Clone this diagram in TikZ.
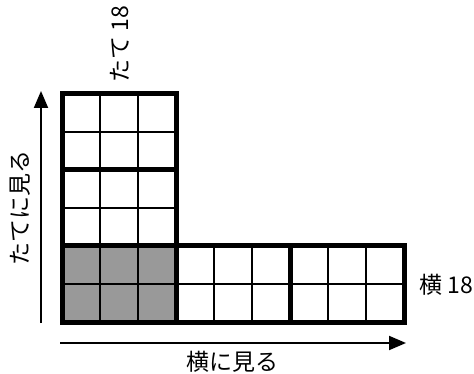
\documentclass[tikz,border=0pt]{standalone}
\usepackage{fontspec}
\setmainfont{Noto Sans CJK JP}
\usetikzlibrary{arrows.meta}
\begin{document}
\begin{tikzpicture}[x=1pt,y=-1pt,
  thin grid/.style={line width=2pt},
  block/.style={line width=5pt},
  axis/.style={line width=2pt,-{Triangle[length=17pt,width=14pt]}},
  lab/.style={font=\fontsize{23}{26}\selectfont,inner sep=0pt}]
\useasboundingbox (0,0) rectangle (474,374);
% shaded cells
\fill[black!40] (62,246) rectangle (176,322);
% thin grid
\foreach \r in {0,...,5}{
  \foreach \c in {0,1,2}{
    \draw[thin grid] ({62+38*\c},{94+38*\r}) rectangle ++(38,38);
  }
}
\foreach \r in {4,5}{
  \foreach \c in {3,...,8}{
    \draw[thin grid] ({62+38*\c},{94+38*\r}) rectangle ++(38,38);
  }
}
% thick blocks
\draw[block] (62,94) rectangle (176,170);
\draw[block] (62,170) rectangle (176,246);
\draw[block] (62,246) rectangle (176,322);
\draw[block] (176,246) rectangle (290,322);
\draw[block] (290,246) rectangle (404,322);
% arrows
\coordinate (vs) at (41,323);
\coordinate (ve) at (41,91);
\coordinate (hs) at (60,343);
\coordinate (he) at (406,343);
\draw[axis] (vs) -- (ve);
\draw[axis] (hs) -- (he);
% labels
\node[lab,rotate=90] (tate18) at (120,44) {たて 18};
\node[lab,rotate=90] (tatemiru) at (20,208) {たてに見る};
\node[lab] (yoko18) at (446,285) {横 18};
\node[lab] (yokomiru) at (232,362) {横に見る};
\end{tikzpicture}
\end{document}
